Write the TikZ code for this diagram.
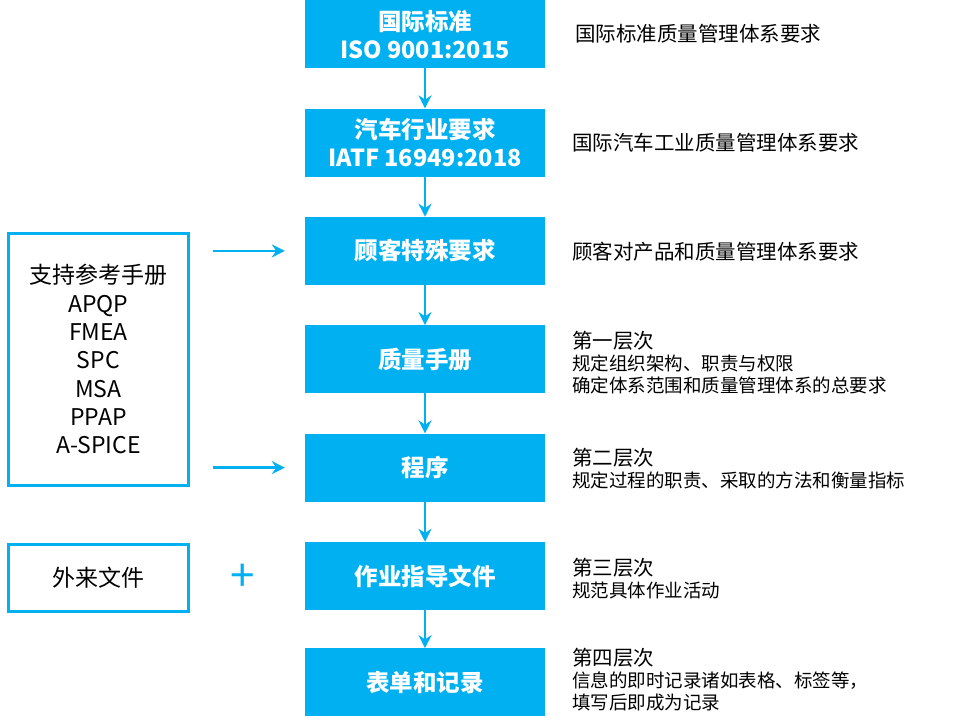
\documentclass[tikz,border=0pt]{standalone}
\usepackage{fontspec}
\setmainfont{Noto Sans CJK SC}
\usetikzlibrary{arrows.meta, positioning}
\definecolor{qblue}{RGB}{0,176,240}

\begin{document}
\begin{tikzpicture}[node distance=40pt]
% Styles for the boxes and arrows
\tikzstyle{blue_box} = [rectangle, minimum width=240pt, minimum height=68pt, text centered, align=center, fill=qblue, text=white, font=\bfseries\fontsize{23.5}{28}\selectfont]
\tikzstyle{line_box} = [rectangle, minimum width=180pt, draw=qblue, line width=3pt, align=center, font=\fontsize{23}{28.3}\selectfont]
\tikzstyle{note} = [inner sep=0pt, align=left, anchor=west, font=\fontsize{18.5}{22}\selectfont]
\tikzstyle{arrow} = [qblue, line width=2.5pt, -{Stealth[length=13pt,width=13pt]}]
\newcommand{\headline}[1]{{\fontsize{20.5}{22}\selectfont #1}}
% Main column
\node (iso) [blue_box] {国际标准\\ISO 9001:2015};
\node (iatf) [blue_box, below=of iso] {汽车行业要求\\IATF 16949:2018};
\node (cust) [blue_box, below=of iatf] {顾客特殊要求};
\node (manual) [blue_box, below=of cust] {质量手册};
\node (proc) [blue_box, below=of manual] {程序};
\node (work) [blue_box, below=of proc] {作业指导文件};
\node (form) [blue_box, below=38pt of work] {表单和记录};
% Notes on the right
\node (iso_note) [note, right=30pt of iso] {\headline{国际标准质量管理体系要求}};
\node (iatf_note) [note, right=27pt of iatf] {\headline{国际汽车工业质量管理体系要求}};
\node (cust_note) [note, right=27pt of cust, yshift=-1pt] {\headline{顾客对产品和质量管理体系要求}};
\node (manual_note) [note, right=27pt of manual, yshift=-3pt] {\headline{第一层次}\\规定组织架构、职责与权限\\确定体系范围和质量管理体系的总要求};
\node (proc_note) [note, right=27pt of proc, yshift=-1pt] {\headline{第二层次}\\规定过程的职责、采取的方法和衡量指标};
\node (work_note) [note, right=27pt of work, yshift=-3pt] {\headline{第三层次}\\规范具体作业活动};
\node (form_note) [note, right=27pt of form, yshift=3pt] {\headline{第四层次}\\信息的即时记录诸如表格、标签等，\\填写后即成为记录};
% Boxes on the left
\node (support) [line_box, minimum height=252pt, left=115pt of manual] {支持参考手册\\APQP\\FMEA\\SPC\\MSA\\PPAP\\A-SPICE};
\node (extern) [line_box, minimum height=67pt, left=115pt of work, yshift=-2pt] {外来文件};
\node (plus) [qblue, font=\fontsize{44}{44}\selectfont] at ([xshift=53pt]extern.east) {+};
% Arrows
\draw [arrow] (iso) -- (iatf);
\draw [arrow] (iatf) -- (cust);
\draw [arrow] (cust) -- (manual);
\draw [arrow] (manual) -- (proc);
\draw [arrow] (proc) -- (work);
\draw [arrow] (work) -- (form);
\draw [arrow] ([xshift=23pt]support.east |- cust) -- ([xshift=-20pt]cust.west);
\draw [arrow] ([xshift=23pt]support.east |- proc) -- ([xshift=-20pt]proc.west);
% Fix the page size
\useasboundingbox ([xshift=-305pt]iso.north west) rectangle ([xshift=415pt,yshift=-720pt]iso.north east);
\end{tikzpicture}
\end{document}
